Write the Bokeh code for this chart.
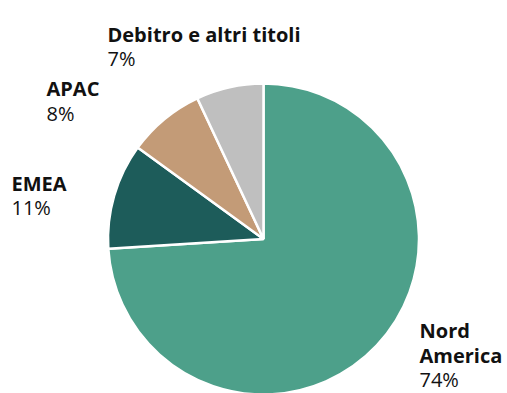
import numpy as np
from bokeh.plotting import figure
from bokeh.models import Range1d, ColumnDataSource
from bokeh.core.properties import value
from bokeh.embed import file_html
from bokeh.resources import INLINE

# Data
categories = ["Nord America", "EMEA", "APAC", "Debitro e altri titoli"]
shares = [74, 11, 8, 7]
pct_labels = ["74%", "11%", "8%", "7%"]
colors = ["#4DA08A", "#1D5C5A", "#C39B77", "#BFBFBF"]

W, H = 507, 393


def ry(y):
    return H - y  # flip so y grows upward


p = figure(width=W, height=H, output_backend="svg", toolbar_location=None,
           x_range=Range1d(0, W), y_range=Range1d(0, H), min_border=0,
           background_fill_color="white", border_fill_color="white")
p.axis.visible = False
p.grid.visible = False
p.outline_line_color = None

# pie geometry (reference pixels)
cx, cy, r = 263, 238.5, 155.5
frac = np.array(shares, dtype=float) / np.sum(shares)
cum = np.concatenate([[0.0], np.cumsum(frac)]) * 2 * np.pi  # clockwise from 12 o'clock
start = np.pi / 2 - cum[1:]
end = np.pi / 2 - cum[:-1]

src = ColumnDataSource(dict(start=start, end=end, color=colors))
p.wedge(x=cx, y=ry(cy), radius=r, start_angle="start", end_angle="end",
        direction="anticlock", fill_color="color", line_color="white",
        line_width=2.5, source=src)

# labels: (left x, baseline of first line) in reference pixels
label_pos = {
    "Nord America": (419, 330),
    "EMEA": (11, 182.7),
    "APAC": (46, 88),
    "Debitro e altri titoli": (107, 33.7),
}
line_gap = 24.5
fs = "20px"
font = value("Open Sans")
for cat, pct in zip(categories, pct_labels):
    x0, b0 = label_pos[cat]
    lines = ["Nord", "America"] if cat == "Nord America" else [cat]
    for i, ln in enumerate(lines):
        p.text(x=[x0], y=[ry(b0 + i * line_gap)], text=[ln],
               text_font=font, text_font_size=fs, text_font_style="bold",
               text_color="#111111", text_align="left", text_baseline="alphabetic")
    p.text(x=[x0], y=[ry(b0 + len(lines) * line_gap)], text=[pct],
           text_font=font, text_font_size=fs, text_font_style="normal",
           text_color="#111111", text_align="left", text_baseline="alphabetic")

open("out.html", "w").write(file_html(p, INLINE))
